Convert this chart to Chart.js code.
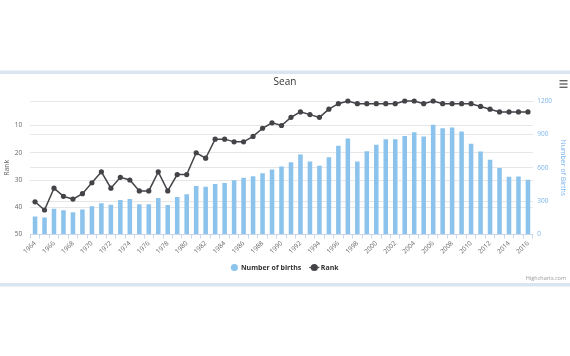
<!DOCTYPE html>
<html>
<head>
<meta charset="utf-8">
<script src="https://cdn.jsdelivr.net/npm/chart.js@4/dist/chart.umd.min.js"></script>
<style>
  html, body { margin: 0; padding: 0; background: #ffffff; }
  #wrap { width: 570px; height: 356px; position: relative; }
</style>
</head>
<body>
<div id="wrap"><canvas id="c" width="570" height="356"></canvas></div>
<script>
const chartTitle = 'Sean';
const years = ['1964','1965','1966','1967','1968','1969','1970','1971','1972','1973','1974','1975','1976','1977','1978','1979','1980','1981','1982','1983','1984','1985','1986','1987','1988','1989','1990','1991','1992','1993','1994','1995','1996','1997','1998','1999','2000','2001','2002','2003','2004','2005','2006','2007','2008','2009','2010','2011','2012','2013','2014','2015','2016'];
const births = [162,153,232,217,201,225,253,280,268,310,319,271,271,328,265,337,361,436,430,454,463,487,510,524,550,584,612,650,720,656,617,695,797,863,657,749,806,857,857,885,919,882,987,955,961,926,816,746,671,597,518,521,493];
const rank = [38,41,33,36,37,35,31,27,33,29,30,34,34,27,34,28,28,20,22,15,15,16,16,14,11,9,10,7,5,6,7,4,2,1,2,2,2,2,2,1,1,2,1,2,2,2,2,3,4,5,5,5,5];
const rankTicks = [10,20,30,40,50];
const birthTicks = [0,300,600,900,1200];
const seriesNames = ['Number of births','Rank'];
const axisTitles = ['Rank','Number of Births'];
const creditText = 'Highcharts.com';

const FONT = "'Open Sans', 'DejaVu Sans', sans-serif";
const BAR = '#8cc3ec';
const LINE = '#434348';
const AXISBLUE = '#7cb5ec';

const decor = {
  id: 'decor',
  beforeDraw(chart) {
    const ctx = chart.ctx;
    ctx.save();
    ctx.fillStyle = '#ffffff';
    ctx.fillRect(0, 0, chart.width, chart.height);
    ctx.fillStyle = '#d9e6f2';
    ctx.fillRect(0, 70.5, chart.width, 3.5);
    ctx.fillRect(0, 283, chart.width, 3.5);
    ctx.restore();
  },
  afterDraw(chart) {
    const ctx = chart.ctx;
    ctx.save();
    ctx.fillStyle = '#666666';
    [80, 83.3, 86.6].forEach(y => ctx.fillRect(559.5, y, 8, 1.4));
    ctx.font = "5.5px " + FONT;
    ctx.fillStyle = '#999999';
    ctx.textAlign = 'right';
    ctx.textBaseline = 'middle';
    ctx.fillText(creditText, 566, 278.5);
    const lg = chart.legend;
    if (lg && lg.legendHitBoxes && lg.legendItems) {
      const idx = lg.legendItems.findIndex(it => it.datasetIndex === 1);
      const hb = lg.legendHitBoxes[idx];
      if (hb) {
        const cx = hb.left + 3;
        const cy = hb.top + 3.5;
        ctx.strokeStyle = LINE;
        ctx.lineWidth = 1.3;
        ctx.beginPath();
        ctx.moveTo(cx - 5, cy);
        ctx.lineTo(cx + 5, cy);
        ctx.stroke();
      }
    }
    ctx.restore();
  }
};

new Chart(document.getElementById('c'), {
  data: {
    labels: years,
    datasets: [
      {
        type: 'bar',
        label: seriesNames[0],
        data: births,
        yAxisID: 'yBirths',
        backgroundColor: BAR,
        borderWidth: 0,
        categoryPercentage: 0.6,
        barPercentage: 0.8,
        order: 1
      },
      {
        type: 'line',
        label: seriesNames[1],
        data: rank,
        yAxisID: 'yRank',
        borderColor: LINE,
        backgroundColor: LINE,
        borderWidth: 1.5,
        pointRadius: 2.6,
        pointBackgroundColor: LINE,
        pointBorderWidth: 0,
        tension: 0,
        clip: false,
        order: 0
      }
    ]
  },
  options: {
    responsive: false,
    animation: false,
    devicePixelRatio: 1,
    layout: { padding: { top: 0, left: 0, right: 0, bottom: 75 } },
    plugins: {
      tooltip: { enabled: false },
      title: {
        display: true,
        text: chartTitle,
        color: '#333333',
        font: { family: FONT, size: 10, weight: 'normal' },
        padding: { top: 76, bottom: 13 }
      },
      legend: {
        position: 'bottom',
        labels: {
          usePointStyle: true,
          pointStyle: 'circle',
          boxWidth: 6,
          boxHeight: 5,
          padding: 10,
          color: '#333333',
          font: { family: FONT, size: 7, weight: 'bold' },
          generateLabels(chart) {
            const items = Chart.defaults.plugins.legend.labels.generateLabels(chart);
            items.forEach(it => { it.lineWidth = 0; });
            return items;
          },
          sort: (a, b) => a.datasetIndex - b.datasetIndex
        }
      }
    },
    scales: {
      x: {
        type: 'category',
        offset: true,
        grid: { display: true, drawOnChartArea: false, drawTicks: true, tickLength: 4, color: '#ccd6eb', offset: true },
        border: { display: true, color: '#ccd6eb' },
        ticks: {
          autoSkip: false,
          maxRotation: 45,
          minRotation: 45,
          padding: 1,
          color: '#666666',
          font: { family: FONT, size: 6.5 },
          callback: (v, i) => (i % 2 === 0 ? years[i] : '')
        },
        afterFit(scale) { scale.height = 19.5; }
      },
      yRank: {
        type: 'linear',
        position: 'left',
        reverse: true,
        min: 1,
        max: 50,
        afterBuildTicks(scale) { scale.ticks = rankTicks.map(v => ({ value: v })); },
        grid: { color: '#e6e6e6', drawTicks: false },
        border: { display: false },
        ticks: { padding: 8, color: '#666666', font: { family: FONT, size: 6.5 }, callback: v => String(v) },
        title: { display: true, text: axisTitles[0], color: '#666666', font: { family: FONT, size: 7 }, padding: { top: 2.5, bottom: 0 } },
        afterFit(scale) { scale.width = 30.3; }
      },
      yBirths: {
        type: 'linear',
        position: 'right',
        min: 0,
        max: 1200,
        afterBuildTicks(scale) { scale.ticks = birthTicks.map(v => ({ value: v })); },
        grid: { color: '#e6e6e6', drawTicks: false },
        border: { display: false },
        ticks: { padding: 4.5, color: AXISBLUE, font: { family: FONT, size: 6.5 }, callback: v => String(v) },
        title: { display: true, text: axisTitles[1], color: AXISBLUE, font: { family: FONT, size: 7 }, padding: { top: 2.8, bottom: 0 } },
        afterFit(scale) { scale.width = 37.3; }
      }
    }
  },
  plugins: [decor]
});
</script>
</body>
</html>
